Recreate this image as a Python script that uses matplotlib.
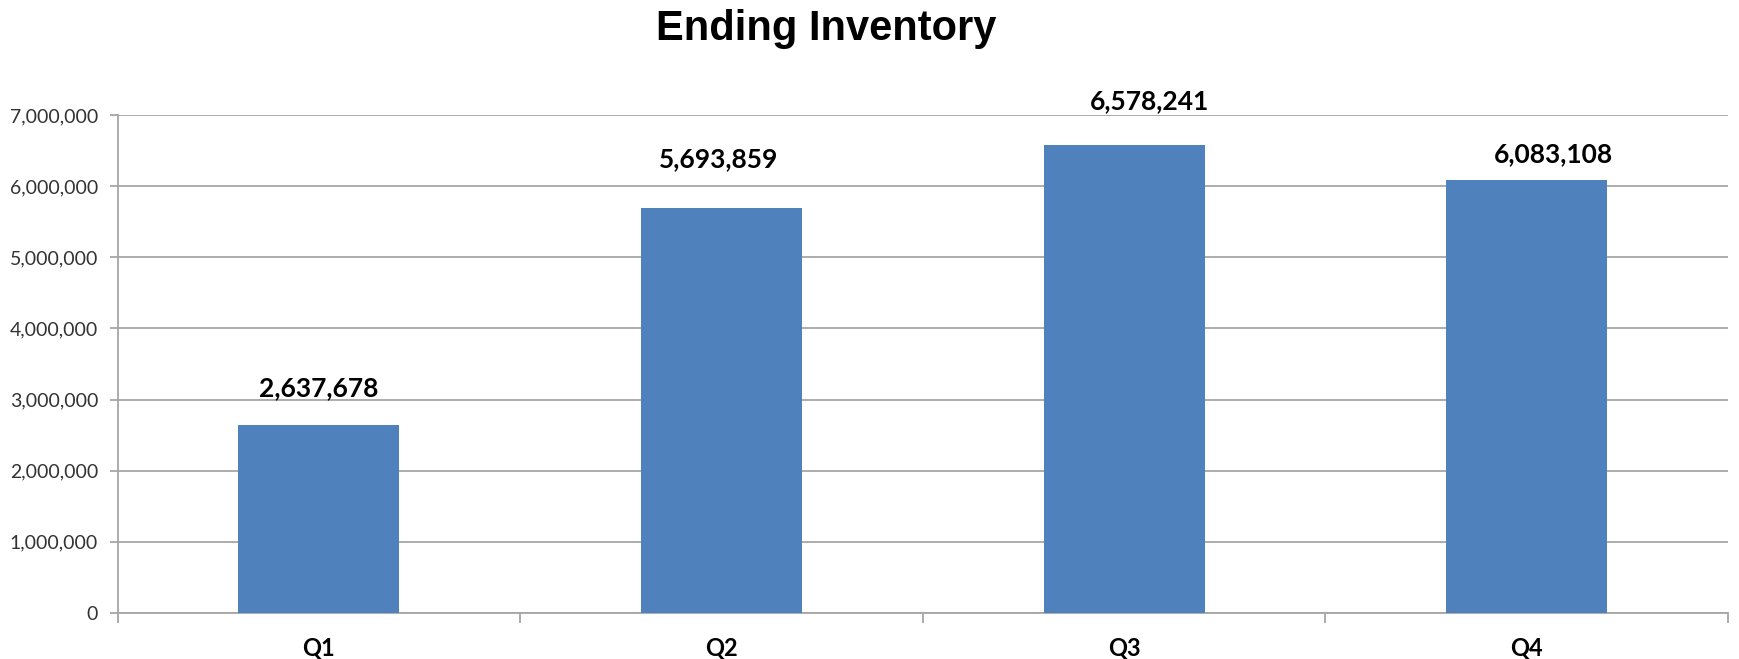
import matplotlib
matplotlib.use("Agg")
import matplotlib.pyplot as plt
from matplotlib.ticker import FuncFormatter, FixedLocator

categories = ["Q1", "Q2", "Q3", "Q4"]
values = [2637678, 5693859, 6578241, 6083108]
title = "Ending Inventory"
yticks = [0, 1000000, 2000000, 3000000, 4000000, 5000000, 6000000, 7000000]

# label offsets in pixels (dx, dy above bar top) -- styling only
label_offsets = [(0, 37), (-3, 49), (25, 44), (27, 26)]

W, H, DPI = 1739, 659, 100
fig = plt.figure(figsize=(W / DPI, H / DPI), dpi=DPI)
ax = fig.add_axes([117.6 / W, 46 / H, (1728 - 117.6) / W, (613 - 115) / H])

x = list(range(len(categories)))
bars = ax.bar(x, values, width=0.40, color="#4F81BD", zorder=3)

ax.set_xlim(-0.5, len(categories) - 0.5)
ax.set_ylim(0, 7000000)
ax.set_yticks(yticks)
ax.yaxis.set_major_formatter(FuncFormatter(lambda v, p: f"{int(v):,}"))
ax.grid(axis="y", color="#A6A6A6", linewidth=1.3, zorder=0)

for s in ["top", "right"]:
    ax.spines[s].set_visible(False)
ax.spines["left"].set_color("#A6A6A6")
ax.spines["bottom"].set_color("#A6A6A6")
ax.spines["left"].set_linewidth(1.3)
ax.spines["bottom"].set_linewidth(1.3)

ax.tick_params(axis="y", length=6, width=1.3, color="#A6A6A6", labelsize=14,
               labelcolor="#333333", pad=8)
for lbl in ax.get_yticklabels():
    lbl.set_fontfamily("Lato")

# category labels, with boundary ticks
ax.xaxis.set_major_locator(FixedLocator([-0.5, 0.5, 1.5, 2.5, 3.5]))
ax.xaxis.set_major_formatter(FuncFormatter(lambda v, p: ""))
ax.xaxis.set_minor_locator(FixedLocator(x))
ax.set_xticklabels(categories, minor=True)
ax.tick_params(axis="x", which="major", length=7, width=1.3, color="#A6A6A6")
ax.tick_params(axis="x", which="minor", length=0, pad=17, labelsize=17)
for lbl in ax.get_xticklabels(minor=True):
    lbl.set_fontfamily("Lato")
    lbl.set_fontweight("bold")
    lbl.set_color("black")

for xi, v, (dx, dy) in zip(x, values, label_offsets):
    ax.annotate(f"{v:,}", xy=(xi, v), xytext=(dx * 72 / DPI, dy * 72 / DPI),
                textcoords="offset points", ha="center", va="center",
                fontsize=19, fontweight="bold", family="Lato", color="black")

fig.text(826 / W, 1 - 29 / H, title, ha="center", va="center",
         fontsize=30, fontweight="bold", family="Liberation Sans")

fig.savefig("out.png", dpi=DPI)
